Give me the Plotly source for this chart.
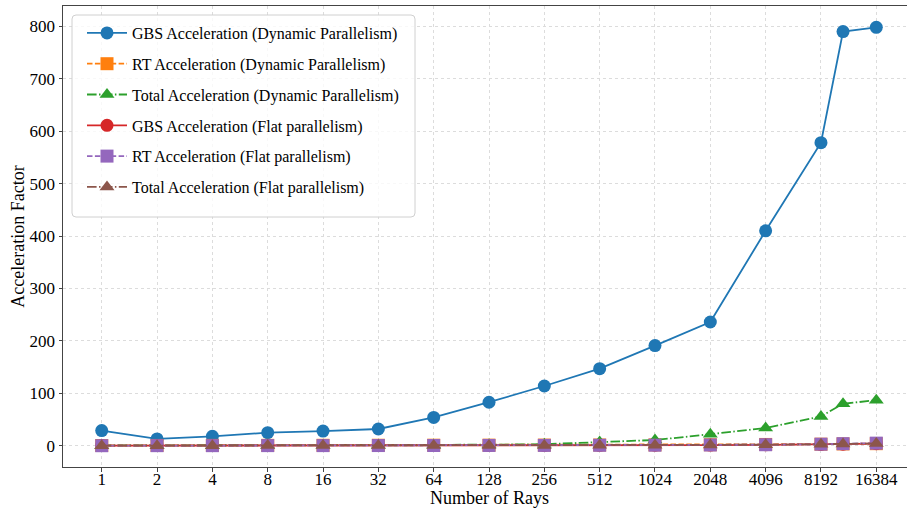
import plotly.graph_objects as go
import math

rays = [1, 2, 4, 8, 16, 32, 64, 128, 256, 512, 1024, 2048, 4096, 8192, 10800, 16384]
tick_vals = [1, 2, 4, 8, 16, 32, 64, 128, 256, 512, 1024, 2048, 4096, 8192, 16384]
tick_text = [str(v) for v in tick_vals]

gbs_dp = [29, 13, 18, 25, 28, 32, 54, 83, 114, 147, 191, 236, 410, 578, 790, 798]
rt_dp = [0.5, 0.6, 0.7, 0.8, 0.9, 1.0, 1.1, 1.2, 1.3, 1.5, 1.7, 2.0, 2.5, 3.0, 3.5, 4.0]
total_dp = [0.6, 0.6, 0.7, 0.8, 0.9, 1.0, 1.5, 2.0, 3.0, 7.0, 11, 22, 34, 56, 80, 87]
gbs_flat = [0.3, 0.3, 0.3, 0.4, 0.4, 0.5, 0.5, 0.6, 0.7, 0.8, 1.0, 1.3, 1.8, 2.5, 3.0, 4.0]
rt_flat = [0.1, 0.2, 0.2, 0.3, 0.3, 0.4, 0.5, 0.6, 0.7, 0.9, 1.1, 1.5, 2.0, 3.0, 4.0, 5.0]
total_flat = [0.1, 0.2, 0.2, 0.3, 0.3, 0.4, 0.5, 0.6, 0.7, 0.9, 1.1, 1.5, 2.0, 3.0, 3.5, 4.5]

names = [
    "GBS Acceleration (Dynamic Parallelism)",
    "RT Acceleration (Dynamic Parallelism)",
    "Total Acceleration (Dynamic Parallelism)",
    "GBS Acceleration (Flat parallelism)",
    "RT Acceleration (Flat parallelism)",
    "Total Acceleration (Flat parallelism)",
]
series = [gbs_dp, rt_dp, total_dp, gbs_flat, rt_flat, total_flat]
colors = ["#1f77b4", "#ff7f0e", "#2ca02c", "#d62728", "#9467bd", "#8c564b"]
symbols = ["circle", "square", "triangle-up", "circle", "square", "triangle-up"]
dash_dashed = "5.5px,2.4px"
dash_dashdot = "9.6px,2.4px,1.5px,2.4px"
dashes = ["solid", dash_dashed, dash_dashdot, "solid", dash_dashed, dash_dashdot]

FONT = "'Liberation Serif', 'Times New Roman', Times, serif"

fig = go.Figure()
for i, (nm, ys) in enumerate(zip(names, series)):
    fig.add_trace(go.Scatter(
        x=rays, y=ys, name=nm, mode="lines+markers",
        line=dict(color=colors[i], width=1.8, dash=dashes[i]),
        marker=dict(symbol=symbols[i], size=13, color=colors[i]),
        legendgroup=str(i),
    ))

x_lo = math.log10(2 ** -0.7)
x_hi = math.log10(2 ** 14.555)

# legend frame (drawn as a shape so the symbols can sit inset like matplotlib)
L, T, R, B = 72, 15, 415, 217
PL, PT, PW, PH = 63, 6, 844, 461
def px(v):
    return (v - PL) / PW
def py(v):
    return (PT + PH - v) / PH
r = 4
x0, x1, y0, y1 = px(L), px(R), py(B), py(T)
rx, ry = r / PW, r / PH
path = (f"M{x0+rx},{y1} L{x1-rx},{y1} Q{x1},{y1} {x1},{y1-ry} "
        f"L{x1},{y0+ry} Q{x1},{y0} {x1-rx},{y0} L{x0+rx},{y0} "
        f"Q{x0},{y0} {x0},{y0+ry} L{x0},{y1-ry} Q{x0},{y1} {x0+rx},{y1} Z")

fig.add_shape(type="path", path=path, xref="paper", yref="paper",
              fillcolor="rgba(255,255,255,0.8)", line=dict(color="#d0d0d0", width=1),
              layer="above")

fig.add_annotation(text="Number of Rays", xref="paper", yref="paper",
                   x=px(489.5), y=py(498), xanchor="center", yanchor="middle",
                   showarrow=False, borderpad=0,
                   font=dict(family=FONT, size=18, color="black"))

fig.update_layout(
    width=907, height=508,
    margin=dict(l=63, r=0, t=6, b=41),
    paper_bgcolor="white", plot_bgcolor="white",
    font=dict(family=FONT, size=17, color="black"),
    showlegend=True,
    legend=dict(
        x=px(82), y=py(16), xanchor="left", yanchor="top",
        bgcolor="rgba(0,0,0,0)", borderwidth=0,
        font=dict(family=FONT, size=16, color="black"),
        tracegroupgap=7, itemwidth=40,
    ),
    xaxis=dict(
        type="log", range=[x_lo, x_hi],
        tickmode="array", tickvals=tick_vals, ticktext=tick_text,
        showgrid=True, gridcolor="#dcdcdc", griddash="dot", gridwidth=0.8,
        showline=True, linecolor="#444", linewidth=1, mirror=True,
        ticks="outside", ticklen=3.5, tickcolor="#444",
        ticklabelstandoff=-7,
        zeroline=False,
    ),
    yaxis=dict(
        range=[-40.5, 838.7],
        tickmode="array", tickvals=[0, 100, 200, 300, 400, 500, 600, 700, 800],
        showgrid=True, gridcolor="#dcdcdc", griddash="dot", gridwidth=0.8,
        showline=True, linecolor="#444", linewidth=1, mirror=False,
        ticks="outside", ticklen=3.5, tickcolor="#444",
        zeroline=False,
        title=dict(text="Acceleration Factor", font=dict(family=FONT, size=18), standoff=0),
    ),
)

fig.write_html("out.html")
